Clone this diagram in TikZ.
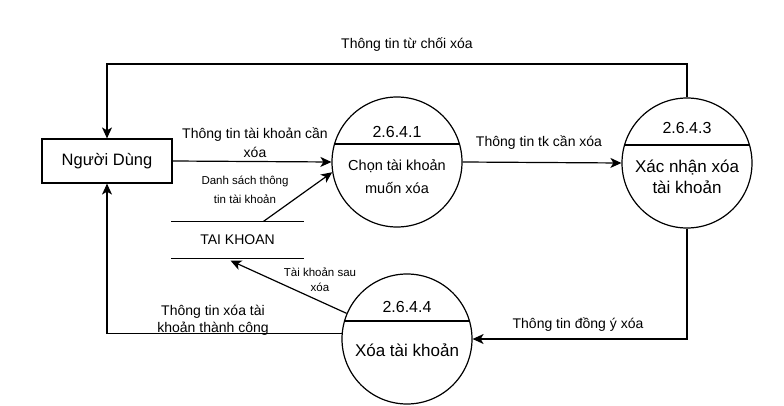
\documentclass[tikz,border=0pt]{standalone}
\usepackage{fontspec}
\setmainfont{Liberation Sans}
\usetikzlibrary{arrows.meta,calc}
\begin{document}
\begin{tikzpicture}[x=1pt,y=-1pt,line width=1.2pt,
  >={Stealth[length=11pt,width=10pt,inset=3pt]},
  proc/.style={circle,draw,minimum size=130pt,inner sep=0pt},
  ext/.style={draw,rectangle,minimum width=130pt,minimum height=44pt,inner sep=0pt,font=\fontsize{16.5}{20}\selectfont},
  store/.style={rectangle,minimum width=131pt,minimum height=36pt,inner sep=0pt,font=\fontsize{14}{18}\selectfont},
  pid/.style={inner sep=0pt,font=\fontsize{16}{20}\selectfont},
  ptxt/.style={inner sep=0pt,align=center,font=\fontsize{17}{21}\selectfont},
  lbl/.style={inner sep=0pt,align=center,font=\fontsize{14}{19}\selectfont},
  slbl/.style={inner sep=0pt,align=center,font=\fontsize{11.5}{19}\selectfont},
  flow/.style={->}]
\fill[white] (0,0) rectangle (784,406);
% entities
\node[ext] (user) at (107,161) {Người Dùng};
\node[store] (tk) at (237.5,240) {TAI KHOAN};
\draw (tk.north west) -- (tk.north east);
\draw (tk.south west) -- (tk.south east);
% processes
\node[proc] (c1) at (397,162) {};
\draw (c1.164) -- (c1.16);
\node[pid] (c1id) at (397,132) {2.6.4.1};
\node[ptxt,font=\fontsize{14.5}{23}\selectfont] (c1t) at (397,177) {Chọn tài khoản\\muốn xóa};
\node[proc] (c3) at (687,163) {};
\draw (c3.164) -- (c3.16);
\node[pid] (c3id) at (687,128) {2.6.4.3};
\node[ptxt] (c3t) at (687,177) {Xác nhận xóa\\tài khoản};
\node[proc] (c4) at (407,339) {};
\draw (c4.164) -- (c4.16);
\node[pid] (c4id) at (407,307) {2.6.4.4};
\node[ptxt] (c4t) at (407,350) {Xóa tài khoản};
% flows
\coordinate (topbend) at (400,64);
\draw[flow] (user.east) -- (c1.west);
\draw[flow] ($(tk.north)+(26,0)$) -- (c1.189);
\draw[flow] (c1.east) -- (c3.west);
\draw[flow] (c3.north) |- (topbend) -| (user.north);
\draw[flow] (c3.south) |- (c4.east);
\draw[flow] (c4.157) -- ($(tk.south)+(-7,2)$);
\draw[flow] (c4.175) -| (user.south);
% labels
\node[lbl] (l1) at (255,143) {Thông tin tài khoản cần\\xóa};
\node[slbl] (l2) at (245,190) {Danh sách thông\\tin tài khoản};
\node[lbl] (l3) at (539,143) {Thông tin tk cần xóa};
\node[lbl] (l4) at (407,45) {Thông tin từ chối xóa};
\node[lbl] (l5) at (578,325) {Thông tin đồng ý xóa};
\node[slbl,font=\fontsize{11.5}{15}\selectfont] (l6) at (320,280) {Tài khoản sau\\xóa};
\node[lbl,font=\fontsize{14}{17}\selectfont] (l7) at (213,320) {Thông tin xóa tài\\khoản thành công};
\end{tikzpicture}
\end{document}
